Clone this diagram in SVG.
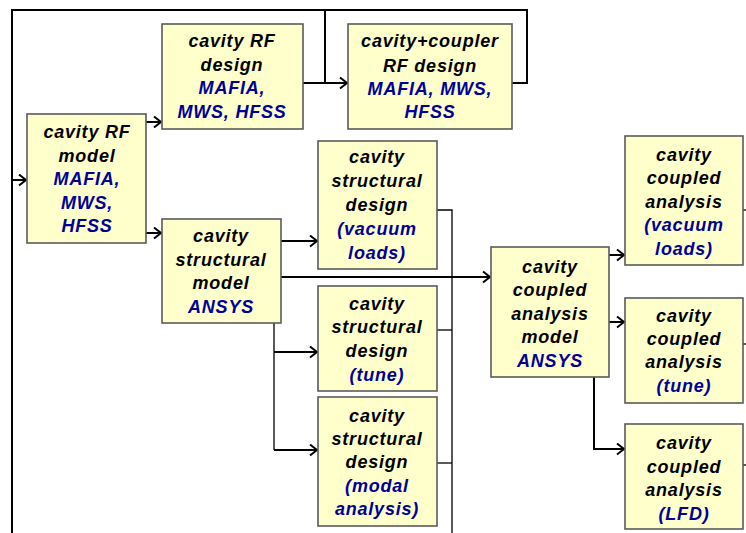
<svg xmlns="http://www.w3.org/2000/svg" width="746" height="533" viewBox="0 0 746 533">
<defs>
<marker id="arr" markerUnits="userSpaceOnUse" markerWidth="12" markerHeight="14" refX="8" refY="6" orient="auto" viewBox="0 0 12 14">
<path d="M1,0.5 L8,6 L1,11.5" fill="none" stroke="#000" stroke-width="2"/>
</marker>
</defs>
<style>
.box{fill:#ffffcc;stroke:#5a5a5a;stroke-width:1.6}
text{font-family:"Liberation Sans",Arial,sans-serif;font-size:18px;font-weight:bold;font-style:italic;letter-spacing:0.8px;text-anchor:middle;fill:#000}
.b{fill:#000099}
.c{fill:none;stroke:#000;stroke-width:2}
.t{fill:none;stroke:#000;stroke-width:1.3}
.a{marker-end:url(#arr)}
</style>
<rect width="746" height="533" fill="#fff"/>
<g id="connectors">
<polyline class="c" points="505,83 527,83 527,10 12,10 12,533"/>
<line class="c a" x1="12" y1="180" x2="26" y2="180"/>
<line class="c" x1="325" y1="10" x2="325" y2="83"/>
<line class="c a" x1="296" y1="83" x2="347" y2="83"/>
<line class="c a" x1="139" y1="122" x2="161" y2="122"/>
<line class="c a" x1="139" y1="233" x2="161" y2="233"/>
<line class="c a" x1="273" y1="241" x2="317" y2="241"/>
<line class="c a" x1="273" y1="277" x2="490" y2="277"/>
<line class="t" x1="274" y1="315" x2="274" y2="450"/>
<line class="c a" x1="274" y1="352" x2="317" y2="352"/>
<line class="c a" x1="274" y1="450" x2="317" y2="450"/>
<polyline class="t" points="430,210 452,210 452,533"/>
<line class="t" x1="430" y1="330" x2="452" y2="330"/>
<line class="t" x1="430" y1="463" x2="452" y2="463"/>
<line class="c a" x1="603" y1="255" x2="624" y2="255"/>
<line class="c a" x1="603" y1="322" x2="624" y2="322"/>
<polyline class="c a" points="594,367 594,449 624,449"/>
<line class="t" x1="737" y1="210" x2="746" y2="210"/>
<line class="t" x1="737" y1="344" x2="746" y2="344"/>
<line class="t" x1="737" y1="465" x2="746" y2="465"/>
</g>
<g id="rf-model">
<rect class="box" x="27" y="114" width="119" height="129"/>
<text x="87" y="138">cavity RF</text>
<text x="87" y="162">model</text>
<text x="87" y="185" class="b">MAFIA,</text>
<text x="87" y="209" class="b">MWS,</text>
<text x="87" y="232" class="b">HFSS</text>
</g>
<g id="rf-design">
<rect class="box" x="162" y="24" width="141" height="105"/>
<text x="232" y="47">cavity RF</text>
<text x="232" y="71">design</text>
<text x="232" y="94" class="b">MAFIA,</text>
<text x="232" y="118" class="b">MWS, HFSS</text>
</g>
<g id="coupler-rf-design">
<rect class="box" x="348" y="24" width="164" height="105"/>
<text x="430" y="47">cavity+coupler</text>
<text x="430" y="72">RF design</text>
<text x="430" y="95" class="b">MAFIA, MWS,</text>
<text x="430" y="118" class="b">HFSS</text>
</g>
<g id="structural-model">
<rect class="box" x="162" y="219" width="119" height="104"/>
<text x="221" y="242">cavity</text>
<text x="221" y="266">structural</text>
<text x="221" y="289">model</text>
<text x="221" y="313" class="b">ANSYS</text>
</g>
<g id="structural-design-vacuum">
<rect class="box" x="318" y="141" width="119" height="128"/>
<text x="377" y="163">cavity</text>
<text x="377" y="187">structural</text>
<text x="377" y="211">design</text>
<text x="377" y="235" class="b">(vacuum</text>
<text x="377" y="259" class="b">loads)</text>
</g>
<g id="structural-design-tune">
<rect class="box" x="318" y="286" width="119" height="105"/>
<text x="377" y="310">cavity</text>
<text x="377" y="333">structural</text>
<text x="377" y="357">design</text>
<text x="377" y="381" class="b">(tune)</text>
</g>
<g id="structural-design-modal">
<rect class="box" x="318" y="397" width="119" height="129"/>
<text x="377" y="422">cavity</text>
<text x="377" y="445">structural</text>
<text x="377" y="468">design</text>
<text x="377" y="492" class="b">(modal</text>
<text x="377" y="515" class="b">analysis)</text>
</g>
<g id="coupled-model">
<rect class="box" x="491" y="247" width="118" height="130"/>
<text x="550" y="273">cavity</text>
<text x="550" y="296">coupled</text>
<text x="550" y="320">analysis</text>
<text x="550" y="343">model</text>
<text x="550" y="367" class="b">ANSYS</text>
</g>
<g id="coupled-vacuum">
<rect class="box" x="625" y="136" width="118" height="129"/>
<text x="684" y="161">cavity</text>
<text x="684" y="184">coupled</text>
<text x="684" y="208">analysis</text>
<text x="684" y="231" class="b">(vacuum</text>
<text x="684" y="255" class="b">loads)</text>
</g>
<g id="coupled-tune">
<rect class="box" x="625" y="298" width="118" height="105"/>
<text x="684" y="322">cavity</text>
<text x="684" y="345">coupled</text>
<text x="684" y="368">analysis</text>
<text x="684" y="392" class="b">(tune)</text>
</g>
<g id="coupled-lfd">
<rect class="box" x="625" y="424" width="118" height="105"/>
<text x="684" y="449">cavity</text>
<text x="684" y="473">coupled</text>
<text x="684" y="496">analysis</text>
<text x="684" y="520" class="b">(LFD)</text>
</g>
</svg>
